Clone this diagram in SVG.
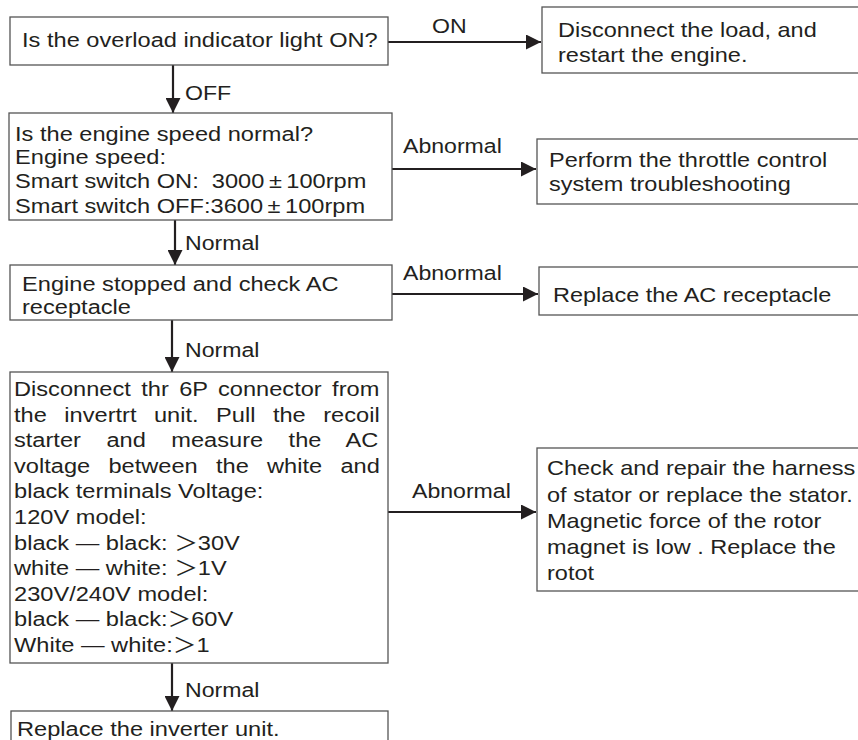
<svg xmlns="http://www.w3.org/2000/svg" width="858" height="740" viewBox="0 0 858 740">
<defs>
<style>
.box{fill:#fff;stroke:#555;stroke-width:1.3}
.t{font-family:"Liberation Sans",Arial,"Noto Sans CJK SC",sans-serif;font-size:21px;fill:#231f20;white-space:pre}
.conn{stroke:#231f20;stroke-width:2.2;fill:none;marker-end:url(#ah)}
</style>
<marker id="ah" markerUnits="userSpaceOnUse" markerWidth="15" markerHeight="15" viewBox="0 0 15 15" refX="15" refY="7.5" orient="auto">
<path d="M0,0 L15,7.5 L0,15 z" fill="#231f20"/>
</marker>
</defs>
<rect width="858" height="740" fill="#fff"/>
<g id="connectors">
<line class="conn" x1="388" y1="42" x2="541" y2="42"/>
<line class="conn" x1="173" y1="65" x2="173" y2="113"/>
<line class="conn" x1="392" y1="169" x2="536" y2="169"/>
<line class="conn" x1="175" y1="220" x2="175" y2="265"/>
<line class="conn" x1="392" y1="294" x2="538" y2="294"/>
<line class="conn" x1="172" y1="320" x2="172" y2="372"/>
<line class="conn" x1="388" y1="512" x2="536" y2="512"/>
<line class="conn" x1="172" y1="663" x2="172" y2="711"/>
<text class="t" transform="translate(432 33) scale(1.1 1)">ON</text>
<text class="t" transform="translate(185 100) scale(1.1 1)">OFF</text>
<text class="t" transform="translate(403 153) scale(1.1 1)">Abnormal</text>
<text class="t" transform="translate(185 250) scale(1.1 1)">Normal</text>
<text class="t" transform="translate(403 280) scale(1.1 1)">Abnormal</text>
<text class="t" transform="translate(185 357) scale(1.1 1)">Normal</text>
<text class="t" transform="translate(412 498) scale(1.1 1)">Abnormal</text>
<text class="t" transform="translate(185 697) scale(1.1 1)">Normal</text>
</g>
<g id="n1">
<rect class="box" x="10" y="17" width="378" height="48"/>
<text class="t" transform="translate(22 47) scale(1.125 1)">Is the overload indicator light ON?</text>
</g>
<g id="n2">
<rect class="box" x="542" y="7" width="320" height="66"/>
<text class="t" transform="translate(558 37) scale(1.12 1)">Disconnect the load, and</text>
<text class="t" transform="translate(558 62) scale(1.12 1)">restart the engine.</text>
</g>
<g id="n3">
<rect class="box" x="9" y="113" width="383" height="107"/>
<text class="t" transform="translate(15 141) scale(1.125 1)">Is the engine speed normal?</text>
<text class="t" transform="translate(15 164) scale(1.125 1)">Engine speed:</text>
<text class="t" transform="translate(15 188) scale(1.125 1)">Smart switch ON:  3000<tspan dx="4">±</tspan><tspan dx="4">100rpm</tspan></text>
<text class="t" transform="translate(15 213) scale(1.125 1)">Smart switch OFF:3600<tspan dx="4">±</tspan><tspan dx="4">100rpm</tspan></text>
</g>
<g id="n4">
<rect class="box" x="537" y="139" width="325" height="65"/>
<text class="t" transform="translate(549 167) scale(1.12 1)">Perform the throttle control</text>
<text class="t" transform="translate(549 191) scale(1.12 1)">system troubleshooting</text>
</g>
<g id="n5">
<rect class="box" x="10" y="265" width="382" height="55"/>
<text class="t" transform="translate(22 291) scale(1.125 1)">Engine stopped and check AC</text>
<text class="t" transform="translate(22 314) scale(1.125 1)">receptacle</text>
</g>
<g id="n6">
<rect class="box" x="539" y="267" width="323" height="48"/>
<text class="t" transform="translate(553 302) scale(1.12 1)">Replace the AC receptacle</text>
</g>
<g id="n7">
<rect class="box" x="10" y="372" width="378" height="291"/>
<text class="t" transform="translate(14 396) scale(1.125 1)" word-spacing="3.4">Disconnect thr 6P connector from</text>
<text class="t" transform="translate(14 421.6) scale(1.125 1)" word-spacing="9.7">the invertrt unit. Pull the recoil</text>
<text class="t" transform="translate(14 447.2) scale(1.125 1)" word-spacing="16.8">starter and measure the AC</text>
<text class="t" transform="translate(14 472.8) scale(1.125 1)" word-spacing="10.4">voltage between the white and</text>
<text class="t" transform="translate(14 498.4) scale(1.125 1)">black terminals Voltage:</text>
<text class="t" transform="translate(14 524) scale(1.125 1)">120V model:</text>
<text class="t" transform="translate(14 549.6) scale(1.125 1)">black — black: ＞30V</text>
<text class="t" transform="translate(14 575.2) scale(1.125 1)">white — white: ＞1V</text>
<text class="t" transform="translate(14 600.8) scale(1.125 1)">230V/240V model:</text>
<text class="t" transform="translate(14 626.4) scale(1.125 1)">black — black:＞60V</text>
<text class="t" transform="translate(14 652) scale(1.125 1)">White — white:＞1</text>
</g>
<g id="n8">
<rect class="box" x="537" y="448" width="325" height="143"/>
<text class="t" transform="translate(547 475) scale(1.12 1)">Check and repair the harness</text>
<text class="t" transform="translate(547 501.5) scale(1.12 1)">of stator or replace the stator.</text>
<text class="t" transform="translate(547 528) scale(1.12 1)">Magnetic force of the rotor</text>
<text class="t" transform="translate(547 554) scale(1.12 1)">magnet is low . Replace the</text>
<text class="t" transform="translate(547 580) scale(1.12 1)">rotot</text>
</g>
<g id="n9">
<rect class="box" x="11" y="711" width="377" height="40"/>
<text class="t" transform="translate(17 736) scale(1.125 1)">Replace the inverter unit.</text>
</g>
</svg>
